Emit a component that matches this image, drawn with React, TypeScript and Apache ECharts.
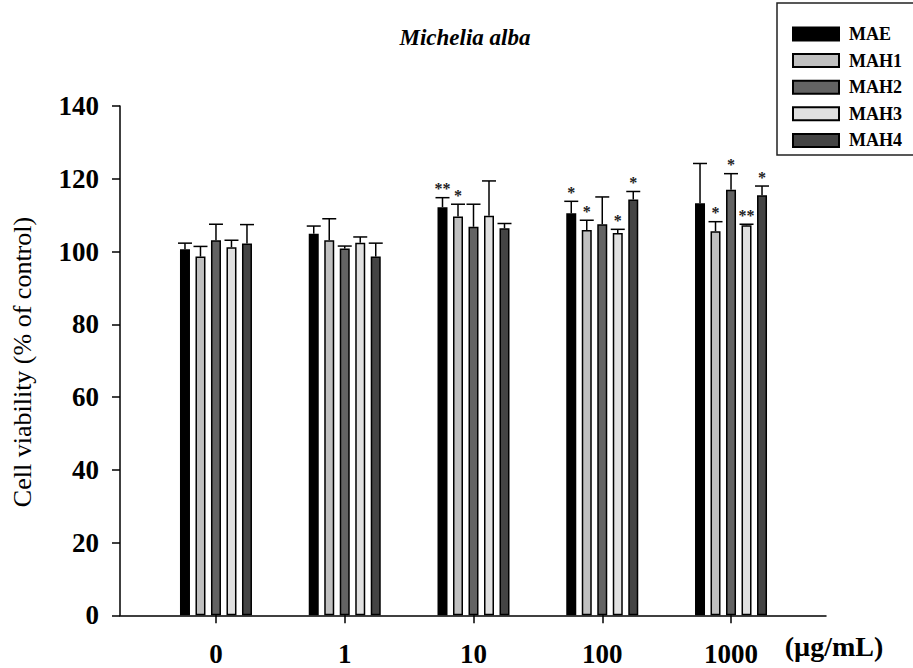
import React, { useEffect, useRef } from "react";
import * as echarts from "echarts";

const categories = ["0", "1", "10", "100", "1000"];
const seriesNames = ["MAE", "MAH1", "MAH2", "MAH3", "MAH4"];
const seriesColors = ["#000000", "#c0c0c0", "#636363", "#e0e0e0", "#444444"];

const maeMeans = [100.6, 104.9, 112.2, 110.5, 113.3];
const mah1Means = [98.6, 103.1, 109.6, 105.9, 105.6];
const mah2Means = [103.1, 100.8, 106.8, 107.5, 117.0];
const mah3Means = [101.2, 102.4, 109.8, 105.1, 107.2];
const mah4Means = [102.2, 98.6, 106.4, 114.3, 115.5];

const maeErr = [1.7, 2.1, 2.6, 3.3, 10.9];
const mah1Err = [2.8, 5.9, 3.4, 2.7, 2.6];
const mah2Err = [4.4, 0.7, 6.2, 7.5, 4.4];
const mah3Err = [1.9, 1.6, 9.6, 1.0, 0.3];
const mah4Err = [5.2, 3.7, 1.3, 2.2, 2.5];

const maeStars = ["", "", "**", "*", ""];
const mah1Stars = ["", "", "*", "*", "*"];
const mah2Stars = ["", "", "", "", "*"];
const mah3Stars = ["", "", "", "*", "**"];
const mah4Stars = ["", "", "", "*", "*"];

const yTicks = [0, 20, 40, 60, 80, 100, 120, 140];

const allMeans = [maeMeans, mah1Means, mah2Means, mah3Means, mah4Means];
const allErr = [maeErr, mah1Err, mah2Err, mah3Err, mah4Err];
const allStars = [maeStars, mah1Stars, mah2Stars, mah3Stars, mah4Stars];

const FONT = "Liberation Serif, Times New Roman, serif";
const BAR_W = 10;
const BAR_GAP = 5.5;

export default function App() {
  const ref = useRef<HTMLDivElement>(null);
  useEffect(() => {
    if (!ref.current) return;
    const chart = echarts.init(ref.current, undefined, { renderer: "svg" });

    const errData: any[] = [];
    allMeans.forEach((means, s) => {
      means.forEach((m, c) => {
        errData.push([c, s, m, allErr[s][c], allStars[s][c]]);
      });
    });

    const barSeries = seriesNames.map((name, s) => ({
      name,
      type: "bar",
      xAxisIndex: 1,
      yAxisIndex: 1,
      data: allMeans[s],
      barWidth: BAR_W,
      barGap: (BAR_GAP / BAR_W) * 100 + "%",
      itemStyle: { color: seriesColors[s], borderColor: "#000", borderWidth: 1.5 },
      z: 2,
    }));

    const option: any = {
      animation: false,
      backgroundColor: "#fff",
      grid: [
        { left: 120, right: 87, top: 106, bottom: 52.7 },
        { left: 151.6, right: 117.6, top: 106, bottom: 52.7 },
      ],
      xAxis: [
        {
          type: "value",
          gridIndex: 0,
          min: 0,
          max: 1,
          axisLine: { show: true, lineStyle: { color: "#000", width: 1.5 } },
          axisTick: { show: false },
          axisLabel: { show: false },
          splitLine: { show: false },
        },
        {
          type: "category",
          gridIndex: 1,
          data: categories,
          axisLine: { show: false },
          axisTick: { show: true, alignWithLabel: true, length: 8, lineStyle: { color: "#000", width: 1.5 } },
          axisLabel: {
            margin: 25,
            color: "#000",
            fontFamily: FONT,
            fontWeight: "bold",
            fontSize: 27,
          },
          splitLine: { show: false },
        },
      ],
      yAxis: [
        {
          type: "value",
          gridIndex: 0,
          min: yTicks[0],
          max: yTicks[yTicks.length - 1],
          interval: 20,
          axisLine: { show: true, lineStyle: { color: "#000", width: 1.5 } },
          axisTick: { show: true, inside: false, length: 8, lineStyle: { color: "#000", width: 1.5 } },
          axisLabel: {
            margin: 21,
            color: "#000",
            fontFamily: FONT,
            fontWeight: "bold",
            fontSize: 27,
          },
          splitLine: { show: false },
        },
        {
          type: "value",
          gridIndex: 1,
          min: yTicks[0],
          max: yTicks[yTicks.length - 1],
          interval: 20,
          show: false,
        },
      ],
      legend: {
        orient: "vertical",
        left: 792,
        top: 25,
        padding: 0,
        itemWidth: 46,
        itemHeight: 13,
        itemGap: 8.6,
        icon: "rect",
        selectedMode: false,
        data: seriesNames,
        textStyle: {
          fontFamily: FONT,
          fontWeight: "bold",
          fontSize: 18,
          lineHeight: 16,
          color: "#000",
          padding: [0, 0, 0, 5],
        },
      },
      graphic: [
        {
          type: "text",
          x: 465,
          y: 37,
          style: {
            text: "Michelia alba",
            fontFamily: FONT,
            fontWeight: "bold",
            fontStyle: "italic",
            fontSize: 23,
            fill: "#000",
            textAlign: "center",
            textVerticalAlign: "middle",
          },
        },
        {
          type: "text",
          x: 22,
          y: 362,
          rotation: Math.PI / 2,
          style: {
            text: "Cell viability (% of control)",
            fontFamily: FONT,
            fontSize: 26,
            fill: "#000",
            textAlign: "center",
            textVerticalAlign: "middle",
          },
        },
        {
          type: "text",
          x: 834,
          y: 646,
          style: {
            text: "(µg/mL)",
            fontFamily: FONT,
            fontWeight: "bold",
            fontSize: 28,
            fill: "#000",
            textAlign: "center",
            textVerticalAlign: "middle",
          },
        },
        {
          type: "rect",
          shape: { x: 777, y: 3, width: 150, height: 152 },
          style: { fill: "none", stroke: "#222", lineWidth: 1.5 },
        },
      ],
      series: [
        ...barSeries,
        {
          type: "custom",
          xAxisIndex: 1,
          yAxisIndex: 1,
          encode: { x: 0, y: 2 },
          data: errData,
          z: 3,
          silent: true,
          renderItem: (params: any, api: any) => {
            const c = api.value(0);
            const s = api.value(1);
            const m = api.value(2);
            const e = api.value(3);
            const star = errData[params.dataIndex][4];
            const base = api.coord([c, m]);
            const top = api.coord([c, m + e]);
            const x = base[0] + (s - 2) * (BAR_W + BAR_GAP);
            const children: any[] = [
              {
                type: "line",
                shape: { x1: x, y1: base[1], x2: x, y2: top[1] },
                style: { stroke: "#000", lineWidth: 1.5 },
              },
              {
                type: "line",
                shape: { x1: x - 7, y1: top[1], x2: x + 7, y2: top[1] },
                style: { stroke: "#000", lineWidth: 1.5 },
              },
            ];
            if (star) {
              children.push({
                type: "text",
                x: x,
                y: top[1] - 9,
                style: {
                  text: star,
                  fontFamily: FONT,
                  fontWeight: "bold",
                  fontSize: 16,
                  fill: "#222",
                  textAlign: "center",
                  textVerticalAlign: "middle",
                },
              });
            }
            return { type: "group", children };
          },
        },
      ],
    };

    chart.setOption(option);
    return () => chart.dispose();
  }, []);

  return <div ref={ref} style={{ width: 913, height: 668, position: "absolute", left: 0, top: 0 }} />;
}
